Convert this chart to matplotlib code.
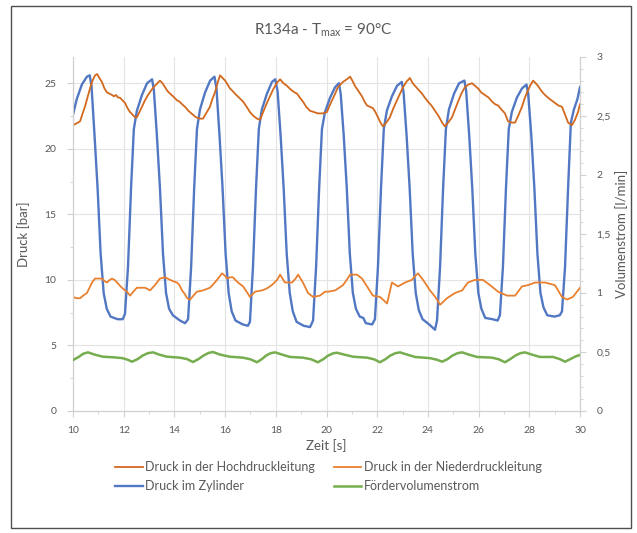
import matplotlib
matplotlib.use("Agg")
import matplotlib.pyplot as plt
from matplotlib.patches import Rectangle
from matplotlib.ticker import MultipleLocator, FixedLocator, FixedFormatter

plt.rcParams['font.family'] = ['Lato', 'DejaVu Sans']
plt.rcParams['mathtext.fontset'] = 'custom'
plt.rcParams['mathtext.rm'] = 'Lato'
plt.rcParams['mathtext.it'] = 'Lato:italic'

# ---------------- data ----------------
title = "R134a - T$_{\\mathrm{max}}$ = 90°C"
x_label = "Zeit [s]"
y_label_left = "Druck [bar]"
y_label_right = "Volumenstrom [l/min]"
series_names = ["Druck in der Hochdruckleitung", "Druck in der Niederdruckleitung",
                "Druck im Zylinder", "Fördervolumenstrom"]

x_ticks = [10, 12, 14, 16, 18, 20, 22, 24, 26, 28, 30]
x_tick_labels = ["10", "12", "14", "16", "18", "20", "22", "24", "26", "28", "30"]
left_ticks = [0, 5, 10, 15, 20, 25]
left_tick_labels = ["0", "5", "10", "15", "20", "25"]
right_ticks = [0, 0.5, 1, 1.5, 2, 2.5, 3]
right_tick_labels = ["0", "0,5", "1", "1,5", "2", "2,5", "3"]

hoch_t = [10.00, 10.10, 10.20, 10.28, 10.38, 10.47, 10.57, 10.67, 10.77, 10.87, 10.95, 11.04, 11.14,
          11.24, 11.34, 11.44, 11.54, 11.62, 11.70, 11.78, 11.85, 11.95, 12.05, 12.15, 12.25, 12.35,
          12.45, 12.52, 12.62, 12.72, 12.84, 12.96, 13.10, 13.23, 13.33, 13.43, 13.53, 13.63, 13.73,
          13.83, 13.95, 14.10, 14.20, 14.30, 14.42, 14.55, 14.73, 14.85, 15.01, 15.13, 15.25, 15.40,
          15.50, 15.60, 15.70, 15.80, 15.90, 16.00, 16.10, 16.19, 16.30, 16.39, 16.55, 16.71, 16.85,
          16.98, 17.12, 17.26, 17.38, 17.50, 17.65, 17.77, 17.89, 18.03, 18.17, 18.30, 18.44, 18.60,
          18.74, 18.84, 18.95, 19.07, 19.20, 19.35, 19.50, 19.66, 19.85, 20.02, 20.10, 20.22, 20.34,
          20.45, 20.55, 20.65, 20.80, 20.93, 21.02, 21.12, 21.26, 21.40, 21.50, 21.60, 21.72, 21.83,
          21.93, 22.03, 22.13, 22.23, 22.36, 22.50, 22.64, 22.78, 22.90, 23.02, 23.15, 23.29, 23.40,
          23.49, 23.63, 23.77, 23.88, 24.00, 24.14, 24.28, 24.42, 24.56, 24.67, 24.80, 24.95, 25.07,
          25.19, 25.32, 25.46, 25.60, 25.74, 25.86, 25.98, 26.10, 26.25, 26.40, 26.53, 26.65, 26.77,
          26.90, 27.04, 27.16, 27.30, 27.44, 27.58, 27.71, 27.81, 27.91, 28.03, 28.15, 28.25, 28.34,
          28.48, 28.62, 28.80, 29.01, 29.15, 29.29, 29.41, 29.53, 29.68, 29.80, 29.92, 30.00]
hoch_p = [21.8, 21.9, 22.0, 22.1, 22.7, 23.2, 23.9, 24.6, 25.2, 25.6, 25.7, 25.4, 25.1,
          24.6, 24.3, 24.2, 24.1, 24.0, 24.1, 23.9, 23.9, 23.7, 23.5, 23.1, 22.8, 22.6,
          22.4, 22.4, 22.8, 23.2, 23.7, 24.1, 24.5, 24.8, 25.0, 25.2, 25.0, 24.7, 24.4,
          24.2, 24.0, 23.7, 23.6, 23.4, 23.2, 22.9, 22.6, 22.4, 22.3, 22.3, 22.7, 23.2,
          23.8, 24.3, 25.0, 25.6, 25.4, 25.2, 24.9, 24.6, 24.4, 24.2, 23.9, 23.6, 23.2,
          22.8, 22.5, 22.3, 22.2, 22.8, 23.5, 24.0, 24.5, 25.0, 25.3, 25.0, 24.8, 24.5,
          24.3, 24.2, 23.9, 23.6, 23.2, 22.9, 22.8, 22.7, 22.7, 22.8, 23.2, 23.7, 24.2,
          24.7, 24.9, 25.1, 25.3, 25.5, 25.2, 24.8, 24.4, 24.0, 23.6, 23.3, 23.2, 23.1,
          22.8, 22.4, 22.0, 21.7, 22.0, 22.4, 23.1, 23.7, 24.2, 24.7, 25.1, 25.4, 25.0,
          24.8, 24.5, 24.2, 23.9, 23.6, 23.3, 22.9, 22.5, 22.0, 21.7, 22.0, 22.4, 23.0,
          23.6, 24.2, 24.7, 24.9, 25.0, 24.8, 24.6, 24.3, 24.1, 23.9, 23.6, 23.4, 23.3,
          23.0, 22.7, 22.1, 22.0, 22.0, 22.6, 23.2, 23.8, 24.3, 24.8, 25.2, 25.0, 24.8,
          24.4, 24.1, 23.8, 23.5, 23.3, 23.2, 22.6, 22.0, 21.8, 22.2, 22.8, 23.4]

nieder_t = [10.00, 10.14, 10.28, 10.40, 10.55, 10.65, 10.75, 10.87, 10.95, 11.14, 11.25, 11.34, 11.45,
            11.54, 11.64, 11.74, 11.83, 11.93, 12.05, 12.13, 12.25, 12.38, 12.52, 12.70, 12.84, 12.95,
            13.04, 13.23, 13.43, 13.63, 13.83, 13.95, 14.10, 14.20, 14.30, 14.42, 14.50, 14.62, 14.75,
            14.89, 15.13, 15.40, 15.55, 15.68, 15.88, 16.00, 16.08, 16.20, 16.31, 16.40, 16.51, 16.71,
            16.85, 16.98, 17.08, 17.18, 17.46, 17.60, 17.77, 17.90, 18.05, 18.17, 18.36, 18.50, 18.64,
            18.78, 18.88, 19.07, 19.27, 19.47, 19.74, 19.94, 20.06, 20.34, 20.50, 20.65, 20.80, 20.93,
            21.20, 21.40, 21.60, 21.83, 22.11, 22.28, 22.39, 22.58, 22.82, 23.10, 23.37, 23.50, 23.61,
            23.81, 24.08, 24.25, 24.36, 24.48, 24.75, 25.07, 25.35, 25.58, 25.86, 26.17, 26.45, 26.77,
            27.12, 27.44, 27.71, 27.95, 28.23, 28.62, 29.01, 29.29, 29.49, 29.72, 30.00]
nieder_p = [8.7, 8.6, 8.6, 8.8, 9.0, 9.4, 9.8, 10.1, 10.1, 10.1, 9.9, 9.8, 10.0,
            10.1, 10.0, 9.8, 9.6, 9.4, 9.2, 9.1, 8.8, 9.1, 9.4, 9.4, 9.4, 9.3,
            9.2, 9.6, 10.1, 10.2, 10.0, 9.9, 9.8, 9.6, 9.2, 8.9, 8.6, 8.5, 8.8,
            9.1, 9.2, 9.4, 9.7, 10.0, 10.5, 10.3, 10.1, 10.2, 10.2, 10.0, 9.8, 9.5,
            9.1, 8.7, 8.9, 9.1, 9.2, 9.3, 9.5, 9.7, 10.0, 10.4, 9.8, 9.8, 9.8,
            10.1, 10.4, 9.8, 9.0, 8.7, 8.8, 9.1, 9.1, 9.2, 9.4, 9.6, 10.0, 10.4,
            10.4, 10.1, 9.5, 8.8, 8.7, 8.4, 8.2, 9.8, 9.5, 9.8, 10.0, 10.3, 10.5,
            10.0, 9.2, 8.8, 8.5, 8.1, 8.6, 9.0, 9.2, 9.8, 10.0, 10.0, 9.6, 9.1,
            8.8, 8.8, 9.5, 9.6, 9.8, 9.8, 9.6, 8.7, 8.5, 8.7, 9.4]

zyl_t = [10.00, 10.15, 10.35, 10.55, 10.66, 10.73, 10.85, 10.97, 11.09, 11.21, 11.33, 11.48, 11.76, 11.96,
         12.05, 12.17, 12.29, 12.40, 12.52, 12.72, 12.92, 13.12, 13.19, 13.31, 13.43, 13.55, 13.67, 13.79, 13.94, 14.22, 14.42,
         14.54, 14.66, 14.78, 14.89, 15.01, 15.21, 15.41, 15.58, 15.66, 15.78, 15.90, 16.02, 16.14, 16.26, 16.41, 16.70, 16.90,
         16.98, 17.10, 17.22, 17.33, 17.45, 17.65, 17.85, 17.98, 18.07, 18.19, 18.31, 18.43, 18.55, 18.67, 18.82, 19.10, 19.35,
         19.47, 19.59, 19.71, 19.82, 19.94, 20.14, 20.34, 20.49, 20.56, 20.68, 20.80, 20.92, 21.04, 21.16, 21.31, 21.45, 21.55, 21.80,
         21.91, 22.03, 22.15, 22.26, 22.38, 22.58, 22.78, 22.97, 23.04, 23.16, 23.28, 23.40, 23.52, 23.64, 23.79, 24.05, 24.28,
         24.36, 24.48, 24.60, 24.71, 24.83, 25.03, 25.23, 25.44, 25.51, 25.63, 25.75, 25.87, 25.99, 26.11, 26.26, 26.55, 26.75,
         26.84, 26.96, 27.08, 27.19, 27.31, 27.51, 27.71, 27.89, 27.96, 28.08, 28.20, 28.32, 28.44, 28.56, 28.71, 29.00, 29.20,
         29.29, 29.41, 29.53, 29.64, 29.76, 29.90, 30.00]
zyl_p = [22.6, 23.8, 24.9, 25.5, 25.6, 24.8, 21.0, 17.0, 12.0, 9.0, 7.8, 7.2, 7.0, 7.0,
         7.4, 11.0, 17.0, 21.5, 22.9, 24.1, 25.0, 25.3, 24.5, 21.0, 17.0, 12.0, 9.0, 7.8, 7.3, 6.9, 6.7,
         7.0, 11.0, 17.0, 21.5, 23.0, 24.3, 25.2, 25.5, 24.6, 21.0, 17.0, 12.0, 9.0, 7.6, 6.9, 6.6, 6.5,
         6.8, 11.0, 17.0, 21.5, 23.0, 24.2, 25.1, 25.3, 24.4, 21.0, 17.0, 12.0, 9.0, 7.6, 6.8, 6.5, 6.4,
         6.9, 11.0, 17.0, 21.5, 22.8, 23.9, 24.7, 25.0, 24.2, 21.0, 17.0, 12.0, 9.0, 7.8, 7.2, 7.1, 6.7, 6.6,
         7.0, 11.0, 17.0, 21.5, 22.9, 24.0, 24.8, 25.1, 24.3, 21.0, 17.0, 12.0, 9.0, 7.7, 7.0, 6.6, 6.2,
         6.9, 11.0, 17.0, 21.5, 23.0, 24.2, 25.0, 25.2, 24.4, 21.0, 17.0, 12.0, 9.0, 7.8, 7.1, 7.0, 6.9,
         7.3, 11.0, 17.0, 21.5, 22.8, 23.9, 24.6, 24.9, 24.1, 21.0, 17.0, 12.0, 9.0, 7.9, 7.3, 7.2, 7.3,
         7.6, 11.0, 17.0, 22.0, 23.0, 23.8, 24.7]

foerder_t = [10.00, 10.20, 10.40, 10.59, 10.85, 11.18, 11.60, 11.95, 12.15, 12.33, 12.55, 12.75, 12.95,
             13.16, 13.40, 13.71, 14.22, 14.50, 14.73, 14.95, 15.15, 15.35, 15.52, 15.80, 16.19, 16.71,
             17.00, 17.26, 17.45, 17.62, 17.80, 17.97, 18.25, 18.56, 19.07, 19.40, 19.66, 19.88, 20.05,
             20.25, 20.41, 20.70, 21.05, 21.60, 21.88, 22.11, 22.33, 22.52, 22.72, 22.90, 23.18, 23.49,
             24.08, 24.35, 24.56, 24.78, 24.97, 25.17, 25.35, 25.62, 25.94, 26.53, 26.80, 27.04, 27.25,
             27.45, 27.65, 27.83, 28.10, 28.42, 28.94, 29.20, 29.41, 29.62, 29.82, 30.00]
foerder_q = [0.432, 0.455, 0.485, 0.497, 0.478, 0.460, 0.455, 0.448, 0.435, 0.418, 0.440, 0.470, 0.490,
             0.497, 0.478, 0.460, 0.452, 0.440, 0.415, 0.440, 0.470, 0.492, 0.500, 0.478, 0.460, 0.452,
             0.438, 0.413, 0.440, 0.470, 0.490, 0.497, 0.478, 0.458, 0.452, 0.438, 0.413, 0.440, 0.468,
             0.488, 0.494, 0.478, 0.460, 0.452, 0.438, 0.413, 0.440, 0.470, 0.490, 0.497, 0.478, 0.458,
             0.448, 0.435, 0.418, 0.440, 0.470, 0.490, 0.497, 0.478, 0.458, 0.452, 0.438, 0.413, 0.440,
             0.470, 0.490, 0.497, 0.478, 0.458, 0.458, 0.440, 0.418, 0.440, 0.462, 0.475]

# ---------------- styling ----------------
c_hoch = "#D2691E"
c_nieder = "#E8802F"
c_zyl = "#5278C4"
c_foerder = "#76AD4E"
grid_c = "#E4E4E4"
axis_c = "#D0D0D0"
text_c = "#595959"

W, H = 637, 533
fig = plt.figure(figsize=(W / 100, H / 100), dpi=100)
fig.patch.set_facecolor("white")
fig.patches.append(Rectangle((11 / W, 1 - 528 / H), 620 / W, 522 / H, transform=fig.transFigure,
                             fill=False, edgecolor="#505050", linewidth=1.0))

ax = fig.add_axes([73 / W, 1 - 411 / H, (580 - 73) / W, (411 - 57) / H])
ax2 = ax.twinx()

l_zyl, = ax.plot(zyl_t, zyl_p, color=c_zyl, lw=1.7, zorder=3)
l_hoch, = ax.plot(hoch_t, hoch_p, color=c_hoch, lw=1.3, zorder=4)
l_nieder, = ax.plot(nieder_t, nieder_p, color=c_nieder, lw=1.3, zorder=4)
l_foerder, = ax2.plot(foerder_t, foerder_q, color=c_foerder, lw=1.8, zorder=3)

ax.set_xlim(10, 30)
ax.set_ylim(0, 27)
ax2.set_ylim(0, 3)

ax.xaxis.set_major_locator(FixedLocator(x_ticks))
ax.xaxis.set_major_formatter(FixedFormatter(x_tick_labels))
ax.xaxis.set_minor_locator(MultipleLocator(1))
ax.yaxis.set_major_locator(FixedLocator(left_ticks))
ax.yaxis.set_major_formatter(FixedFormatter(left_tick_labels))
ax.yaxis.set_minor_locator(MultipleLocator(2.5))
ax2.yaxis.set_major_locator(FixedLocator(right_ticks))
ax2.yaxis.set_major_formatter(FixedFormatter(right_tick_labels))
ax2.yaxis.set_minor_locator(MultipleLocator(0.1))

ax.grid(True, which="major", color=grid_c, lw=0.8, zorder=0)
ax.set_axisbelow(True)

for a in (ax, ax2):
    a.spines["top"].set_visible(False)
    for s in ("left", "right", "bottom"):
        a.spines[s].set_color(axis_c)
        a.spines[s].set_linewidth(0.8)
    a.tick_params(which="both", colors=axis_c, labelcolor=text_c, labelsize=7.5)
    a.tick_params(which="major", length=4)
    a.tick_params(which="minor", length=2.5)

ax.tick_params(axis="x", pad=7)
ax.tick_params(axis="y", pad=8)
ax2.tick_params(axis="y", pad=8)

ax.set_xlabel(x_label, color=text_c, fontsize=9.5, labelpad=3)
ax.set_ylabel(y_label_left, color=text_c, fontsize=9.5, labelpad=10)
ax2.set_ylabel(y_label_right, color=text_c, fontsize=9.5, labelpad=3)

fig.text(323 / W, 1 - 30 / H, title, ha="center", va="center", fontsize=11, color=text_c)

handles = [l_hoch, l_zyl, l_nieder, l_foerder]
labels = [series_names[0], series_names[2], series_names[1], series_names[3]]
fig.legend(handles, labels, ncol=2, loc="upper left", bbox_to_anchor=(110 / W, 1 - 456 / H),
           frameon=False, fontsize=9, labelcolor=text_c, handlelength=2.2, handletextpad=0.2,
           columnspacing=1.5, labelspacing=0.55, borderaxespad=0)

fig.savefig("out.png", dpi=100, facecolor="white")
